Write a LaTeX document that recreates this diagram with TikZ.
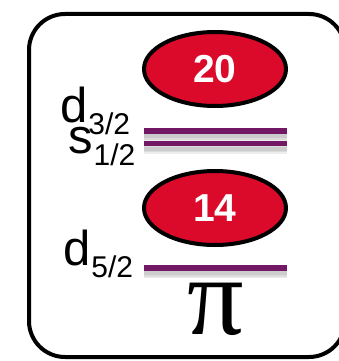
\documentclass[tikz,border=0pt]{standalone}
\usepackage{fontspec}
\setmainfont{Liberation Sans}
\newfontfamily\greekfont{Liberation Serif}
\usepackage{xcolor}
\definecolor{shellred}{HTML}{DC0A2A}
\definecolor{levelpurple}{HTML}{731864}

% orbital label: letter with a sans subscript
\newcommand{\orb}[2]{{\fontsize{49}{49}\selectfont #1}\kern1pt\raisebox{-12pt}{\fontsize{30}{30}\selectfont #2}}

\tikzset{
  magic/.style={ellipse, draw=black, line width=4pt, fill=shellred,
    minimum width=142pt, minimum height=74pt, inner sep=0pt,
    text=white, font=\fontsize{39}{39}\selectfont\bfseries},
  level/.style={levelpurple, line width=5.5pt},
  levelshadow/.style={black, opacity=0.07, line width=#1},
  orblabel/.style={anchor=base west, inner sep=0pt}
}
\usetikzlibrary{shapes.geometric}

\begin{document}
\begin{tikzpicture}[x=1pt, y=-1pt]
      \useasboundingbox (0,0) rectangle (338,361);
      % \draw[help lines, gray!50, very thin] (0,0) grid[step=20] (338,361);

      \draw[line width=4pt, rounded corners=36pt] (29,14) rectangle (345,357);

      \node[magic] (m20) at (215,69) {20};
      \node[magic] (m14) at (215,208) {14};

      \coordinate (d3l) at (144,131); \coordinate (d3r) at (287,131);
      \coordinate (s1l) at (144,143.5); \coordinate (s1r) at (287,143.5);
      \coordinate (d5l) at (144,268); \coordinate (d5r) at (287,268);

      % soft shadows under the levels
      \foreach \w in {4,7,10}{
        \draw[levelshadow=\w pt] ([yshift=-5pt]d3l) -- ([yshift=-5pt]d3r);
        \draw[levelshadow=\w pt] ([yshift=-5pt]s1l) -- ([yshift=-5pt]s1r);
        \draw[levelshadow=\w pt] ([yshift=-5pt]d5l) -- ([yshift=-5pt]d5r);
      }
      \draw[level] (d3l) -- (d3r);
      \draw[level] (s1l) -- (s1r);
      \draw[level] (d5l) -- (d5r);

      \node[orblabel] (d3) at (60,122) {\orb{d}{3/2}};
      \node[orblabel] (s1) at (68,153) {\orb{s}{1/2}};
      \node[orblabel] (d5) at (63,265) {\orb{d}{5/2}};

      \node[inner sep=0pt] (pi) at (216,309) {\greekfont\fontsize{112}{112}\selectfont π};
\end{tikzpicture}
\end{document}
